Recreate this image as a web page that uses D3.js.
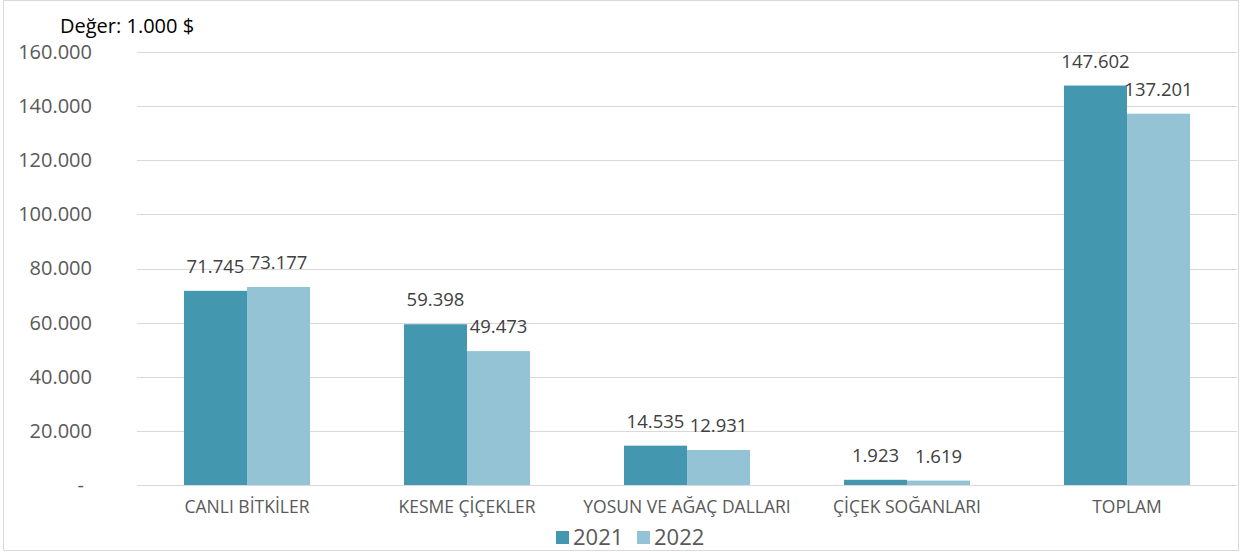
<!DOCTYPE html>
<html>
<head>
  <meta charset="utf-8">
  <title>Değer</title>
  <script src="https://d3js.org/d3.v7.min.js"></script>
  <style>
    body { margin: 0; background: #fff; }
    text { font-family: "Open Sans", sans-serif; }
  </style>
</head>
<body>
  <div id="chart"></div>

  <script>
    const categories = ["CANLI BİTKİLER", "KESME ÇİÇEKLER", "YOSUN VE AĞAÇ DALLARI", "ÇİÇEK SOĞANLARI", "TOPLAM"];
    const years = ["2021", "2022"];
    const values2021 = [71745, 59398, 14535, 1923, 147602];
    const values2022 = [73177, 49473, 12931, 1619, 137201];
    const yTicks = [0, 20000, 40000, 60000, 80000, 100000, 120000, 140000, 160000];
    const colors = ["#4398b0", "#93c3d4"];

    const width = 1246;
    const height = 552;
    const margin = { top: 52, right: 9, bottom: 67, left: 137 };

    const svg = d3.select("#chart")
      .append("svg")
      .attr("width", width)
      .attr("height", height);

    // outer frame
    svg.append("rect")
      .attr("x", 3.5).attr("y", 0.5)
      .attr("width", 1235).attr("height", 550)
      .attr("fill", "none")
      .attr("stroke", "#d9d9d9");

    const fmt = v => v === 0 ? "-" : d3.format(",")(v).replace(/,/g, ".");

    const xScale = d3.scaleBand()
      .domain(categories)
      .range([margin.left, width - margin.right])
      .paddingInner(0.427)
      .paddingOuter(0.2135);

    const xSub = d3.scaleBand()
      .domain(years)
      .range([0, xScale.bandwidth()]);

    const yScale = d3.scaleLinear()
      .domain([0, 160000])
      .range([height - margin.bottom, margin.top]);

    // gridlines
    svg.append("g")
      .selectAll("line")
      .data(yTicks)
      .enter()
      .append("line")
      .attr("x1", margin.left)
      .attr("x2", width - margin.right)
      .attr("y1", d => Math.round(yScale(d)) + 0.5)
      .attr("y2", d => Math.round(yScale(d)) + 0.5)
      .attr("stroke", "#d9d9d9")
      .attr("stroke-width", 1);

    // y axis labels
    const yAxis = d3.axisLeft(yScale)
      .tickValues(yTicks)
      .tickFormat(fmt)
      .tickSize(0)
      .tickPadding(0);

    const yG = svg.append("g")
      .attr("transform", `translate(92, 0)`)
      .call(yAxis);
    yG.select(".domain").remove();
    yG.selectAll("text")
      .attr("font-size", 20)
      .attr("fill", "#595959")
      .attr("font-family", "Open Sans, sans-serif")
      .attr("dx", d => d === 0 ? -8 : 0);

    // x axis labels
    const xAxis = d3.axisBottom(xScale).tickSize(0).tickPadding(16);
    const xG = svg.append("g")
      .attr("transform", `translate(0, ${height - margin.bottom})`)
      .call(xAxis);
    xG.select(".domain").remove();
    xG.selectAll("text")
      .attr("font-size", 17.5)
      .attr("fill", "#595959")
      .attr("font-family", "Open Sans, sans-serif");

    const series = years.map((y, i) => ({
      year: y,
      color: colors[i],
      values: (i === 0 ? values2021 : values2022).map((v, j) => ({ cat: categories[j], v }))
    }));

    const groups = svg.selectAll("g.series")
      .data(series)
      .enter()
      .append("g")
      .attr("class", "series");

    groups.selectAll("rect")
      .data(d => d.values.map(p => ({ ...p, year: d.year, color: d.color })))
      .enter()
      .append("rect")
      .attr("x", d => xScale(d.cat) + xSub(d.year))
      .attr("y", d => yScale(d.v))
      .attr("width", xSub.bandwidth())
      .attr("height", d => yScale(0) - yScale(d.v))
      .attr("fill", d => d.color);

    groups.selectAll("text")
      .data(d => d.values.map(p => ({ ...p, year: d.year })))
      .enter()
      .append("text")
      .attr("x", d => xScale(d.cat) + xSub(d.year) + xSub.bandwidth() / 2)
      .attr("y", d => yScale(d.v) - 18)
      .attr("text-anchor", "middle")
      .attr("font-size", 18.5)
      .attr("fill", "#404040")
      .text(d => fmt(d.v));

    // title
    svg.append("text")
      .attr("x", 60)
      .attr("y", 33)
      .attr("font-size", 20)
      .attr("fill", "#000")
      .text("Değer: 1.000 $");

    // legend
    const legend = svg.append("g").attr("transform", "translate(556, 531)");
    const li = legend.selectAll("g")
      .data(series)
      .enter()
      .append("g")
      .attr("transform", (d, i) => `translate(${i * 81}, 0)`);
    li.append("rect")
      .attr("width", 13).attr("height", 13)
      .attr("fill", d => d.color);
    li.append("text")
      .attr("x", 17)
      .attr("y", 14)
      .attr("font-size", 22)
      .attr("fill", "#595959")
      .text(d => d.year);
  </script>
</body>
</html>
